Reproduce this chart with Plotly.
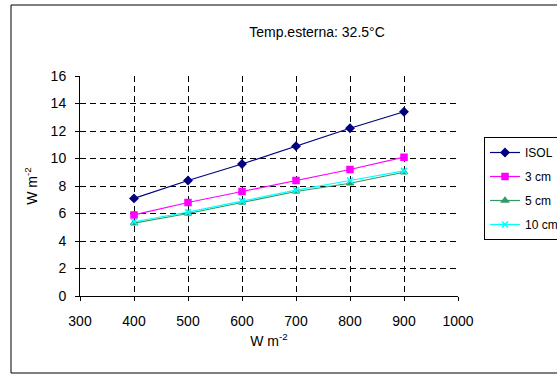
import plotly.graph_objects as go

x_vals = [400, 500, 600, 700, 800, 900]
isol = [7.1, 8.4, 9.6, 10.9, 12.2, 13.4]
cm3 = [5.9, 6.8, 7.6, 8.4, 9.2, 10.1]
cm5 = [5.3, 6.0, 6.8, 7.6, 8.2, 9.0]
cm10 = [5.4, 6.1, 6.9, 7.7, 8.4, 9.1]

series = [
    ("ISOL", isol, "#000080", "diamond", 6),
    ("3 cm", cm3, "#FF00FF", "square", 6),
    ("5 cm", cm5, "#339966", "triangle-up", 6),
    ("10 cm", cm10, "#00FFFF", "x-thin-open", 6),
]

W, H = 557, 374
L, R, T, B = 80, W - 458, 76, H - 296
pw, ph = W - L - R, H - T - B

fig = go.Figure()
for i, (name, ys, col, sym, sz) in enumerate(series):
    fig.add_trace(go.Scatter(
        x=x_vals, y=ys, name=name, mode="lines+markers",
        line=dict(color=col, width=1.2),
        marker=dict(symbol=sym, size=sz, color=col, line=dict(color=col, width=1.5)),
        legendgroup=str(i),
    ))

def px_to_paper_x(p):
    return (p - L) / pw

def px_to_paper_y(p):
    return (H - B - p) / ph

fig.add_shape(type="rect", xref="paper", yref="paper",
              x0=px_to_paper_x(11), x1=px_to_paper_x(565),
              y0=px_to_paper_y(373), y1=px_to_paper_y(5),
              line=dict(color="#000000", width=1), layer="below")

fig.update_layout(
    width=W, height=H,
    margin=dict(l=L, r=R, t=T, b=B, autoexpand=False),
    paper_bgcolor="white", plot_bgcolor="white",
    font=dict(family="Liberation Sans, Arial, sans-serif", size=14, color="black"),
    title=dict(text="Temp.esterna: 32.5°C", x=(317) / W, xanchor="center",
               y=1 - 32 / H, yanchor="middle", font=dict(size=14)),
    legend=dict(x=px_to_paper_x(484), y=px_to_paper_y(137), xanchor="left", yanchor="top",
                bordercolor="black", borderwidth=1, bgcolor="white",
                tracegroupgap=5, traceorder="grouped", font=dict(size=12),
                itemwidth=30),
    showlegend=True,
)
fig.update_xaxes(range=[300, 1000], dtick=100, tick0=300,
                 showline=True, linecolor="black", linewidth=1,
                 ticks="outside", ticklen=4, tickcolor="black",
                 showgrid=True, gridcolor="black", gridwidth=1, griddash="6px,4px",
                 zeroline=False, ticklabelstandoff=8,
                 title=dict(text="W m<sup>-2</sup>", standoff=8, font=dict(size=14)))
fig.update_yaxes(range=[0, 16], dtick=2, tick0=0,
                 showline=True, linecolor="black", linewidth=1,
                 ticks="outside", ticklen=4, tickcolor="black",
                 showgrid=True, gridcolor="black", gridwidth=1, griddash="6px,4px",
                 zeroline=False, ticklabelstandoff=6,
                 title=dict(text="W m<sup>-2</sup>", standoff=9, font=dict(size=14)))

fig.write_html("out.html")
